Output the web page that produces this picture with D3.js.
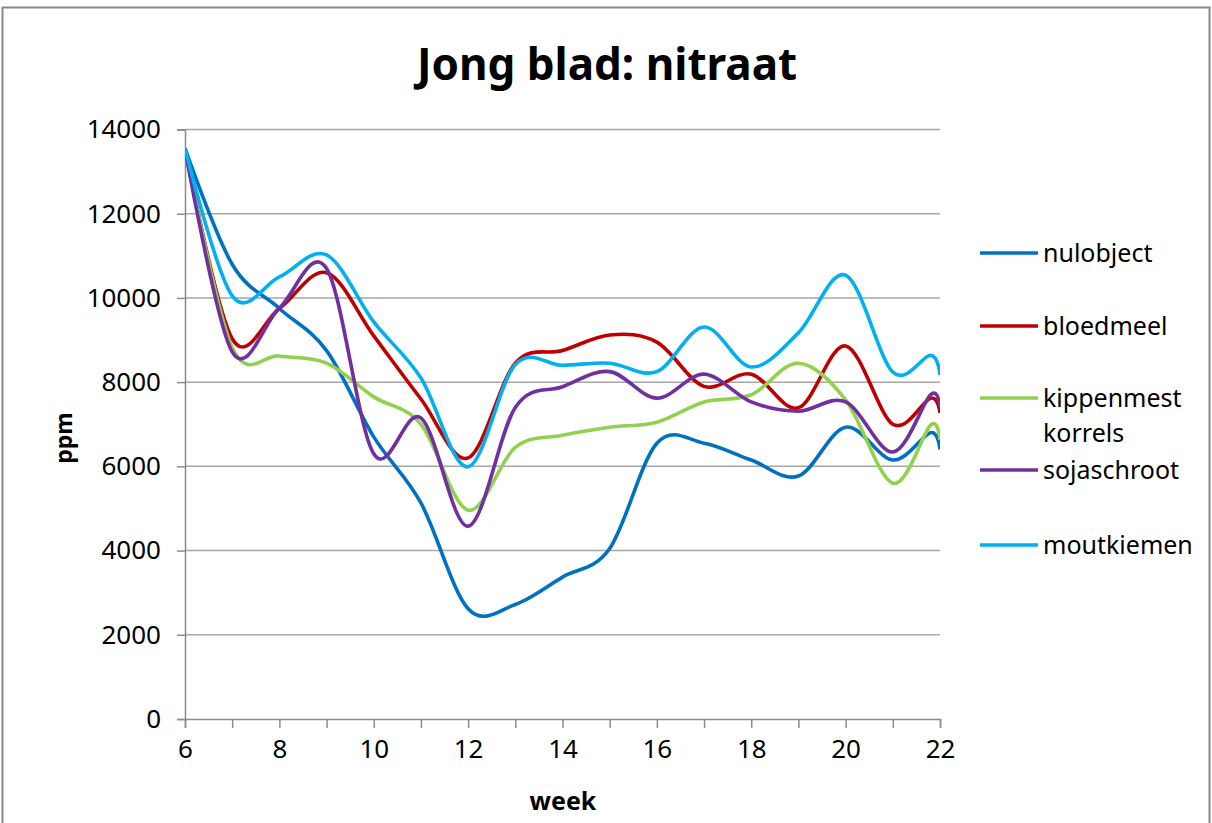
<!DOCTYPE html>
<html>
<head>
<meta charset="utf-8">
<script src="https://cdnjs.cloudflare.com/ajax/libs/d3/7.8.5/d3.min.js"></script>
<style>
  body { margin: 0; background: #fff; }
  text { font-family: "Noto Sans", "Open Sans", sans-serif; fill: #000; }
</style>
</head>
<body>
<svg id="chart" width="1212" height="823"></svg>
<script>
// Data (week, ppm)
var weeks = [6, 7, 8, 9, 10, 11, 12, 13, 14, 15, 16, 17, 18, 19, 20, 21, 21.8, 22];
var nulobject   = [13550, 10800, 9750, 8750, 6700, 5130, 2620, 2720, 3370, 4050, 6550, 6550, 6150, 5770, 6930, 6150, 6800, 6400];
var bloedmeel   = [13550, 9030, 9750, 10600, 9100, 7600, 6200, 8450, 8750, 9120, 8950, 7900, 8190, 7390, 8860, 7000, 7620, 7270];
var kippenmest  = [13550, 8820, 8620, 8450, 7650, 7000, 4960, 6450, 6740, 6930, 7050, 7530, 7700, 8450, 7580, 5600, 6980, 6630];
var sojaschroot = [13550, 8720, 9760, 10700, 6300, 7150, 4580, 7400, 7890, 8250, 7620, 8190, 7530, 7310, 7530, 6340, 7700, 7410];
var moutkiemen  = [13550, 10050, 10500, 11020, 9430, 8100, 5990, 8420, 8400, 8450, 8250, 9310, 8360, 9170, 10540, 8240, 8640, 8170];

var seriesNames = ["nulobject", "bloedmeel", "kippenmest korrels", "sojaschroot", "moutkiemen"];
var seriesValues = [nulobject, bloedmeel, kippenmest, sojaschroot, moutkiemen];
var seriesColors = ["#0070C0", "#C00000", "#92D050", "#7030A0", "#00B0F0"];

var xTicks = [6, 7, 8, 9, 10, 11, 12, 13, 14, 15, 16, 17, 18, 19, 20, 21, 22];
var yTicks = [0, 2000, 4000, 6000, 8000, 10000, 12000, 14000];

var svg = d3.select("#chart");

// outer frame
svg.append("rect")
  .attr("x", 2.5).attr("y", 7.5)
  .attr("width", 1207).attr("height", 830)
  .attr("fill", "none")
  .attr("stroke", "#888")
  .attr("stroke-width", 2);

// scales
var x = d3.scaleLinear().domain([6, 22]).range([185, 940]);
var y = d3.scaleLinear().domain([0, 14000]).range([719, 129.5]);

// gridlines
svg.append("g")
  .selectAll("line")
  .data(yTicks.filter(function(d) { return d > 0; }))
  .enter()
  .append("line")
  .attr("x1", 185).attr("x2", 940)
  .attr("y1", function(d) { return y(d); })
  .attr("y2", function(d) { return y(d); })
  .attr("stroke", "#a6a6a6")
  .attr("stroke-width", 1.5);

// y axis
var yAxis = svg.append("g")
  .attr("transform", "translate(185,0)")
  .call(d3.axisLeft(y).tickValues(yTicks).tickSize(8).tickPadding(16).tickFormat(d3.format("d")));
yAxis.selectAll("text").style("font-size", "26px");

// x axis
var xAxis = svg.append("g")
  .attr("transform", "translate(0,719)")
  .call(d3.axisBottom(x).tickValues(xTicks).tickSize(9).tickPadding(12)
    .tickFormat(function(d) { return d % 2 === 0 ? d : ""; }));
xAxis.selectAll("text").style("font-size", "26px");

svg.selectAll(".domain, .tick line")
  .attr("stroke", "#8c8c8c")
  .attr("stroke-width", 1.5);
svg.selectAll(".tick text").attr("fill", "#000");

// clip to plot area
svg.append("clipPath").attr("id", "plot")
  .append("rect").attr("x", 185).attr("y", 100).attr("width", 755).attr("height", 640);

// smoothed lines, like the spreadsheet's "smoothed line" option
var line = d3.line()
  .x(function(d, i) { return x(weeks[i]); })
  .y(function(d) { return y(d); })
  .curve(d3.curveCatmullRom.alpha(0));

svg.append("g")
  .attr("clip-path", "url(#plot)")
  .selectAll("path")
  .data(seriesValues)
  .enter()
  .append("path")
  .attr("d", line)
  .attr("fill", "none")
  .attr("stroke", function(d, i) { return seriesColors[i]; })
  .attr("stroke-width", 3.6)
  .attr("stroke-linejoin", "round");

// title
svg.append("text")
  .attr("x", 607).attr("y", 80)
  .attr("text-anchor", "middle")
  .style("font-size", "44px")
  .style("font-weight", "bold")
  .text("Jong blad: nitraat");

// axis titles
svg.append("text")
  .attr("transform", "translate(72,438) rotate(-90)")
  .attr("text-anchor", "middle")
  .style("font-size", "23px")
  .style("font-weight", "bold")
  .text("ppm");

svg.append("text")
  .attr("x", 563).attr("y", 810)
  .attr("text-anchor", "middle")
  .style("font-size", "25px")
  .style("font-weight", "bold")
  .text("week");

// legend
var legendY = [253, 326, 398, 470, 545];
var legend = svg.append("g")
  .selectAll("g")
  .data(seriesNames)
  .enter()
  .append("g")
  .attr("transform", function(d, i) { return "translate(980," + legendY[i] + ")"; });

legend.append("line")
  .attr("x1", 0).attr("x2", 58)
  .attr("stroke", function(d, i) { return seriesColors[i]; })
  .attr("stroke-width", 3.6);

legend.append("text")
  .attr("x", 63)
  .attr("y", 9)
  .style("font-size", "25px")
  .each(function(d) {
    var words = d.split(" ");
    var t = d3.select(this);
    words.forEach(function(w, j) {
      t.append("tspan").attr("x", 63).attr("dy", j === 0 ? 0 : 35).text(w);
    });
  });
</script>
</body>
</html>
